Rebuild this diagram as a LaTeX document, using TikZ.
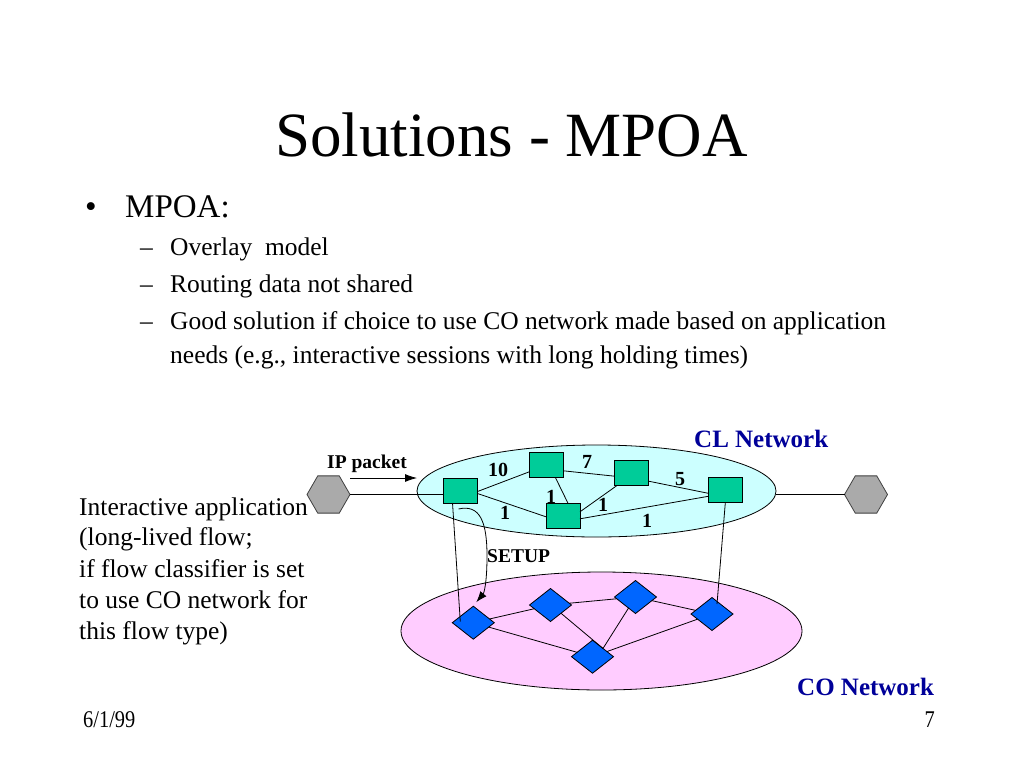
\documentclass[tikz,border=0pt]{standalone}
\usepackage{fontspec}
\usepackage{graphicx}
\setmainfont{Liberation Serif}
\usetikzlibrary{shapes.geometric,arrows.meta,calc}
\definecolor{sqgreen}{RGB}{0,204,153}
\definecolor{clfill}{RGB}{204,255,255}
\definecolor{cofill}{RGB}{255,204,255}
\definecolor{coblue}{RGB}{0,102,255}
\definecolor{hexgray}{RGB}{170,170,170}
\definecolor{navy}{RGB}{0,0,153}
\begin{document}
\begin{tikzpicture}[x=1pt,y=-1pt,
  router/.style={rectangle, draw=black, line width=0.8pt, fill=sqgreen, minimum width=34, minimum height=25, inner sep=0, outer sep=0},
  cosw/.style={diamond, draw=black, line width=0.8pt, fill=coblue, minimum width=42, minimum height=33, inner sep=0, outer sep=0},
  host/.style={regular polygon, regular polygon sides=6, draw=black!75, line width=0.8pt, fill=hexgray, minimum size=43, inner sep=0, outer sep=0},
  cloud/.style={ellipse, draw=black, line width=0.8pt, inner sep=0, outer sep=0},
  link/.style={draw=black, line width=0.8pt},
  titletext/.style={inner sep=0, font=\fontsize{63}{75}\selectfont},
  lvlone/.style={inner sep=0, anchor=base west, font=\fontsize{33}{40}\selectfont},
  lvltwo/.style={inner sep=0, anchor=base west, font=\fontsize{25.5}{31}\selectfont},
  netlabel/.style={inner sep=0, anchor=base west, text=navy, font=\bfseries\fontsize{25}{30}\selectfont},
  smallbold/.style={inner sep=0, anchor=base west, font=\bfseries\fontsize{19.5}{23}\selectfont},
  weight/.style={inner sep=0, font=\bfseries\fontsize{20}{24}\selectfont},
  footer/.style={inner sep=0, font=\fontsize{24}{28}\selectfont}]
\useasboundingbox[fill=white] (0,0) rectangle (1024,768);

% title and bullets
\node[titletext, anchor=base] (title) at (511.5,156) {Solutions - MPOA};
\node[lvlone] (b1) at (85,217) {•};
\node[lvlone] (t1) at (125,217) {MPOA:};
\node[lvltwo] (d1t) at (140,255) {–};
\node[lvltwo] (s1) at (170,255) {Overlay\ \ model};
\node[lvltwo] (d2t) at (140,292) {–};
\node[lvltwo] (s2) at (170,292) {Routing data not shared};
\node[lvltwo] (d3t) at (140,329) {–};
\node[lvltwo] (s3a) at (170,329) {Good solution if choice to use CO network made based on application};
\node[lvltwo] (s3b) at (170,363) {needs (e.g., interactive sessions with long holding times)};

% left description
\node[lvltwo] (l1) at (79,515) {Interactive application};
\node[lvltwo] (l2) at (79,545) {(long-lived flow;};
\node[lvltwo] (l3) at (79,577) {if flow classifier is set};
\node[lvltwo] (l4) at (79,608) {to use CO network for};
\node[lvltwo] (l5) at (79,639) {this flow type)};

% clouds
\node[cloud, fill=clfill, minimum width=359, minimum height=92] (cl) at (596.5,491) {};
\node[cloud, fill=cofill, minimum width=401, minimum height=118] (co) at (601.5,631) {};

% CL routers
\node[router] (r1) at (460.5,490.5) {};
\node[router] (r2) at (546.3,464.8) {};
\node[router] (r3) at (631.7,473.2) {};
\node[router] (r4) at (563,515.8) {};
\node[router] (r5) at (725.3,490.3) {};

% CO switches
\node[cosw] (c1) at (473.3,622.7) {};
\node[cosw] (c2) at (550.5,605) {};
\node[cosw] (c3) at (635.5,597) {};
\node[cosw] (c4) at (712,614) {};
\node[cosw] (c5) at (592.5,656.7) {};

% hosts
\node[host] (h1) at (328.5,494.5) {};
\node[host] (h2) at (866,494.5) {};

% CL links (attached where the reference attaches them)
\draw[link] ($(r1.east)+(0,1)$) -- ($(r2.west)+(0,7)$);
\draw[link] ($(r1.east)+(0,3)$) -- ($(r4.west)+(0,1)$);
\draw[link] ($(r2.east)+(0,6)$) -- ($(r3.west)+(0,3)$);
\draw[link] ($(r2.south)+(9,0)$) -- ($(r4.north)+(5,0)$);
\draw[link] ($(r4.east)+(0,-4)$) -- ($(r3.south)+(-15,0)$);
\draw[link] ($(r3.east)+(0,8)$) -- ($(r5.west)+(0,3)$);
\draw[link] ($(r4.east)+(0,3)$) -- ($(r5.west)+(0,6)$);

% CO links
\draw[link] (c1) -- (c2);
\draw[link] (c1) -- (c5);
\draw[link] (c2) -- (c3);
\draw[link] (c2.south east) -- (c5.north east);
\draw[link] (c3) -- (c5.north east);
\draw[link] (c3) -- (c4);
\draw[link] (c5) -- (c4);

% access links
\draw[link] (h1.east) -- (h1.east -| r1.west);
\draw[link] (h2.west -| cl.east) -- (h2.west);

% vertical links between layers
\draw[link] ($(r1.south)+(-8,0)$) -- ($(c1.center)+(-13,-1)$);
\draw[link] (r5.south) -- ($(c4.center)+(5,-10)$);

% IP packet arrow
\coordinate (ipa) at (350,478);
\coordinate (ipb) at (417,478);
\draw[link, -{Latex[length=12,width=8]}] (ipa) -- (ipb);
\node[smallbold] (iplabel) at (327,468) {IP packet};

% SETUP arrow
\draw[link, -{Latex[length=11,width=8]}] ($(r1.south)+(-2,6)$) .. controls (480,504) and (487,522) .. (487,556) .. controls (487,583) and (484,593) .. ($(c1.north)+(3,-4)$);
\node[smallbold] (setup) at (487,562) {SETUP};

% weights
\node[weight] (w10) at (498,470) {10};
\node[weight] (w7) at (587,462) {7};
\node[weight] (w5) at (680,479) {5};
\node[weight] (w1a) at (551,497) {1};
\node[weight] (w1b) at (603,505) {1};
\node[weight] (w1c) at (505,513) {1};
\node[weight] (w1d) at (647,521) {1};

% network labels
\node[netlabel] (cllabel) at (694,447) {CL Network};
\node[netlabel] (colabel) at (797,695) {CO Network};

% footer
\node[footer, anchor=base west] (date) at (83,727) {\scalebox{0.85}[1]{6/1/99}};
\node[footer, anchor=base east] (page) at (935,727) {\scalebox{0.85}[1]{7}};
\end{tikzpicture}
\end{document}
